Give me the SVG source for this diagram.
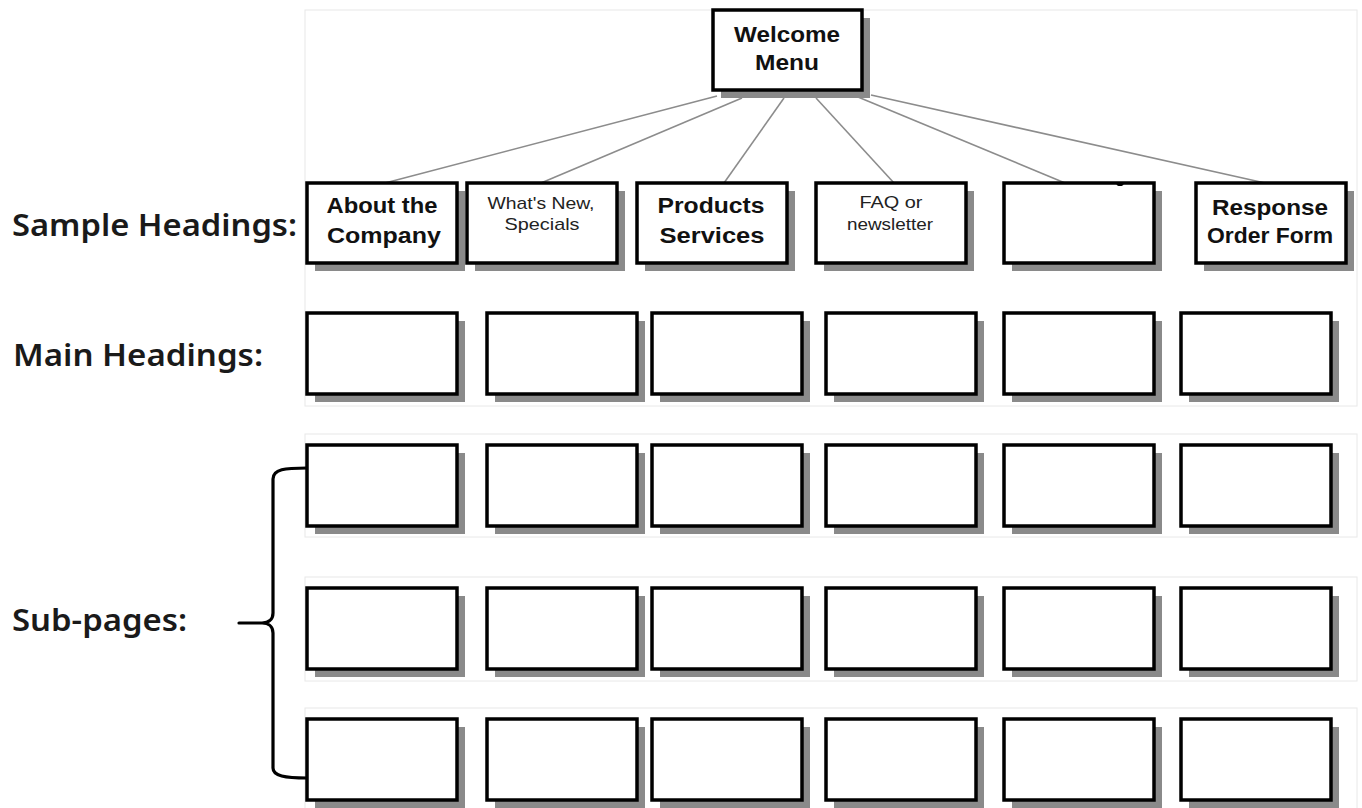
<svg xmlns="http://www.w3.org/2000/svg" width="1362" height="808" viewBox="0 0 1362 808">
<style>
.band{fill:#ffffff;stroke:#e8e8e8;stroke-width:1}
.sh{fill:#8a8a8a}
.bx{fill:#ffffff;stroke:#000000;stroke-width:3.5}
.conn{stroke:#8c8c8c;stroke-width:1.6;fill:none}
.brace{stroke:#000000;stroke-width:3.2;fill:none;stroke-linecap:round}
.lbl{font-family:"Noto Sans","Open Sans",sans-serif;font-size:31px;font-weight:600;fill:#1a1a1a}
.bt{font-family:"Liberation Sans",Arial,sans-serif;font-size:22px;font-weight:bold;fill:#111;text-anchor:middle}
.st{font-family:"Liberation Sans",Arial,sans-serif;font-size:17px;fill:#222;text-anchor:middle}
</style>
<defs>
<g id="box"><rect class="sh" x="8" y="8" width="150" height="81"/><rect class="bx" x="0" y="0" width="150" height="81"/></g>
<g id="boxs"><rect class="sh" x="8" y="8" width="150" height="80"/><rect class="bx" x="0" y="0" width="150" height="80"/></g>
</defs>
<rect width="1362" height="808" fill="#ffffff"/>
<g id="bands">
<rect class="band" x="305" y="10" width="1052" height="396"/>
<rect class="band" x="305" y="434" width="1052" height="103"/>
<rect class="band" x="305" y="577" width="1052" height="104"/>
<rect class="band" x="305" y="708" width="1052" height="110"/>
</g>
<g id="labels">
<text class="lbl" x="12" y="236" textLength="285" lengthAdjust="spacingAndGlyphs">Sample Headings:</text>
<text class="lbl" x="13" y="366" textLength="250" lengthAdjust="spacingAndGlyphs">Main Headings:</text>
<text class="lbl" x="12" y="631" textLength="175" lengthAdjust="spacingAndGlyphs">Sub-pages:</text>
</g>
<g id="connectors">
<line class="conn" x1="717" y1="96" x2="385" y2="183"/>
<line class="conn" x1="742" y1="98" x2="541" y2="183"/>
<line class="conn" x1="784" y1="98" x2="724" y2="183"/>
<line class="conn" x1="816" y1="98" x2="894" y2="183"/>
<line class="conn" x1="858" y1="97" x2="1065" y2="183"/>
<line class="conn" x1="871" y1="95" x2="1265" y2="183"/>
<path class="brace" d="M307,468 C285,468 273,469 273,479 L273,613 C273,620 268,623 262,623 L239,623 M262,623 C268,623 273,626 273,633 L273,768 C273,776 285,778 307,778"/>
</g>
<g id="welcome">
<rect class="sh" x="721" y="18" width="149" height="80"/><rect class="bx" x="713" y="10" width="149" height="80"/>
<text class="bt" x="787" y="42" textLength="106" lengthAdjust="spacingAndGlyphs">Welcome</text>
<text class="bt" x="787" y="70" textLength="64" lengthAdjust="spacingAndGlyphs">Menu</text>
</g>
<g id="sample-1"><use href="#boxs" x="307" y="183"/>
<text class="bt" x="382" y="213" textLength="111" lengthAdjust="spacingAndGlyphs">About the</text>
<text class="bt" x="384" y="243" textLength="114" lengthAdjust="spacingAndGlyphs">Company</text></g>
<g id="sample-2"><use href="#boxs" x="467" y="183"/>
<text class="st" x="541" y="209" textLength="107" lengthAdjust="spacingAndGlyphs">What's New,</text>
<text class="st" x="542" y="230" textLength="75" lengthAdjust="spacingAndGlyphs">Specials</text></g>
<g id="sample-3"><use href="#boxs" x="637" y="183"/>
<text class="bt" x="711" y="213" textLength="107" lengthAdjust="spacingAndGlyphs">Products</text>
<text class="bt" x="712" y="243" textLength="105" lengthAdjust="spacingAndGlyphs">Services</text></g>
<g id="sample-4"><use href="#boxs" x="816" y="183"/>
<text class="st" x="891" y="208" textLength="63" lengthAdjust="spacingAndGlyphs">FAQ or</text>
<text class="st" x="890" y="230" textLength="86" lengthAdjust="spacingAndGlyphs">newsletter</text></g>
<g id="sample-5"><use href="#boxs" x="1004" y="183"/><ellipse cx="1120" cy="184" rx="3.5" ry="2" fill="#000"/></g>
<g id="sample-6"><use href="#boxs" x="1196" y="183"/>
<text class="bt" x="1270" y="215" textLength="116" lengthAdjust="spacingAndGlyphs">Response</text>
<text class="bt" x="1270" y="243" textLength="126" lengthAdjust="spacingAndGlyphs">Order Form</text></g>
<g id="main-1"><use href="#box" x="307" y="313"/></g>
<g id="main-2"><use href="#box" x="487" y="313"/></g>
<g id="main-3"><use href="#box" x="652" y="313"/></g>
<g id="main-4"><use href="#box" x="826" y="313"/></g>
<g id="main-5"><use href="#box" x="1004" y="313"/></g>
<g id="main-6"><use href="#box" x="1181" y="313"/></g>
<g id="sub1-1"><use href="#box" x="307" y="445"/></g>
<g id="sub1-2"><use href="#box" x="487" y="445"/></g>
<g id="sub1-3"><use href="#box" x="652" y="445"/></g>
<g id="sub1-4"><use href="#box" x="826" y="445"/></g>
<g id="sub1-5"><use href="#box" x="1004" y="445"/></g>
<g id="sub1-6"><use href="#box" x="1181" y="445"/></g>
<g id="sub2-1"><use href="#box" x="307" y="588"/></g>
<g id="sub2-2"><use href="#box" x="487" y="588"/></g>
<g id="sub2-3"><use href="#box" x="652" y="588"/></g>
<g id="sub2-4"><use href="#box" x="826" y="588"/></g>
<g id="sub2-5"><use href="#box" x="1004" y="588"/></g>
<g id="sub2-6"><use href="#box" x="1181" y="588"/></g>
<g id="sub3-1"><use href="#box" x="307" y="719"/></g>
<g id="sub3-2"><use href="#box" x="487" y="719"/></g>
<g id="sub3-3"><use href="#box" x="652" y="719"/></g>
<g id="sub3-4"><use href="#box" x="826" y="719"/></g>
<g id="sub3-5"><use href="#box" x="1004" y="719"/></g>
<g id="sub3-6"><use href="#box" x="1181" y="719"/></g>
</svg>
